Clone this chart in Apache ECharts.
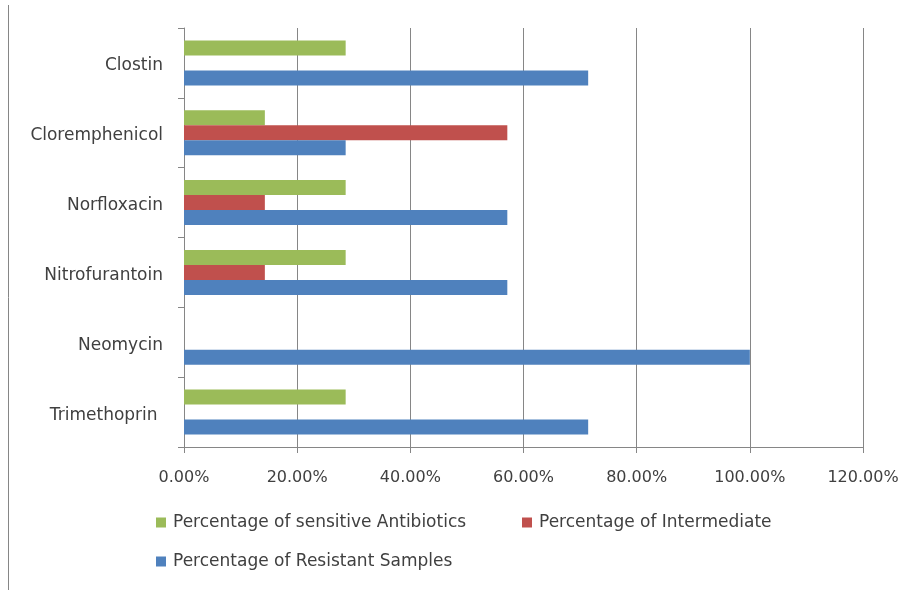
<!DOCTYPE html>
<html><head><meta charset="utf-8">
<script src="https://cdn.jsdelivr.net/npm/echarts@6/dist/echarts.min.js"></script>
<style>html,body{margin:0;padding:0;background:#fff}#c{width:917px;height:590px}</style>
</head><body><div id="c"></div>
<script>
const categories = ['Clostin', 'Cloremphenicol', 'Norfloxacin', 'Nitrofurantoin', 'Neomycin', 'Trimethoprin '];
const sensitive = [28.57, 14.29, 28.57, 28.57, 0, 28.57];
const intermediate = [0, 57.14, 14.29, 14.29, 0, 0];
const resistant = [71.43, 28.57, 57.14, 57.14, 100, 71.43];
const seriesNames = ['Percentage of sensitive Antibiotics', 'Percentage of Intermediate', 'Percentage of Resistant Samples'];
const colors = ['#9BBB59', '#C0504D', '#4F81BD'];

const chart = echarts.init(document.getElementById('c'));
const font = 'DejaVu Sans, sans-serif';
const txt = '#404040';
const lg = (names, left, top) => ({
  data: names, left: left, top: top, orient: 'horizontal', itemGap: 0,
  itemWidth: 10, itemHeight: 10, icon: 'rect', padding: 0,
  textStyle: {fontSize: 17, color: txt, fontFamily: font, padding: [0, 0, 0, 2]}
});
chart.setOption({
  animation: false,
  color: colors,
  grid: {left: 184, right: 54, top: 28, bottom: 143},
  legend: [lg([seriesNames[0]], 156, 514), lg([seriesNames[1]], 522, 514), lg([seriesNames[2]], 156, 553)],
  xAxis: {
    type: 'value', min: 0, max: 120, interval: 20,
    axisLine: {show: true, lineStyle: {color: '#868686'}},
    axisTick: {show: true, length: 6, lineStyle: {color: '#868686'}},
    splitLine: {show: true, lineStyle: {color: '#868686'}},
    axisLabel: {formatter: v => v.toFixed(2) + '%', fontSize: 16, color: txt, fontFamily: font, margin: 23}
  },
  yAxis: {
    type: 'category', data: categories, inverse: true,
    axisLine: {show: true, lineStyle: {color: '#868686'}},
    axisTick: {show: true, length: 6, lineStyle: {color: '#868686'}},
    axisLabel: {
      margin: 21,
      formatter: v => '{a|' + v + '}',
      rich: {a: {fontSize: 17, color: txt, fontFamily: font, padding: [6, 0, 0, 0]}}
    }
  },
  series: [sensitive, intermediate, resistant].map((d, i) => ({
    name: seriesNames[i], type: 'bar', data: d, barWidth: 15, barGap: '0%'
  })),
  graphic: [{type: 'line', shape: {x1: 8.5, y1: 5, x2: 8.5, y2: 590}, style: {stroke: '#868686', lineWidth: 1}}]
});
</script></body></html>
